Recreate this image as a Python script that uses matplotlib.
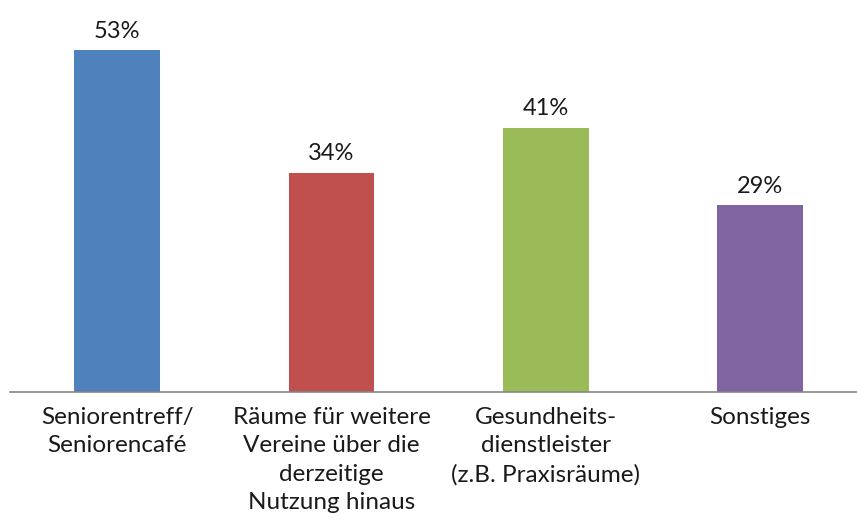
import matplotlib
matplotlib.use("Agg")
import matplotlib.pyplot as plt

categories = ["Seniorentreff/\nSeniorencafé",
              "Räume für weitere\nVereine über die\nderzeitige\nNutzung hinaus",
              "Gesundheits-\ndienstleister\n(z.B. Praxisräume)",
              "Sonstiges"]
values = [53, 34, 41, 29]
colors = ["#4F81BD", "#C0504D", "#9BBB59", "#8064A2"]

plt.rcParams['font.family'] = ['Lato', 'DejaVu Sans']

fig = plt.figure(figsize=(8.57, 5.32), dpi=100)
ax = fig.add_axes([10/857, 140/532, 1 - 10/857, 392/532])

x = range(len(values))
ax.bar(x, values, width=0.40, color=colors, zorder=2)
for xi, v in zip(x, values):
    ax.text(xi, v + 1.3, f"{v}%", ha='center', va='bottom', fontsize=17, color='#1a1a1a')

ax.set_xlim(-0.5, 3.452)
ax.set_ylim(0, 60.8)
ax.set_yticks([])
ax.set_xticks(list(x))
ax.set_xticklabels(categories, fontsize=17.5, color='#1a1a1a', linespacing=1.42, va='top')
ax.tick_params(axis='x', length=0, pad=11)
for s in ['top', 'right', 'left']:
    ax.spines[s].set_visible(False)
ax.spines['bottom'].set_color('#868686')
ax.spines['bottom'].set_linewidth(1.2)

fig.savefig("out.png", dpi=100)
